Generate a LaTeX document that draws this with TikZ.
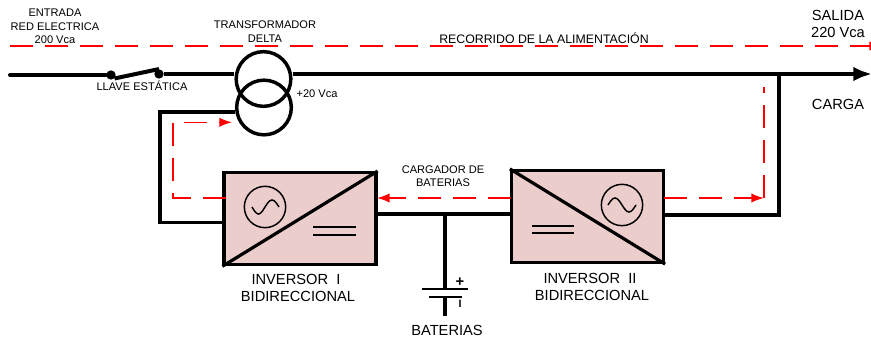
\documentclass[tikz,border=0pt]{standalone}
\usepackage{fontspec}
\setmainfont{Liberation Sans}
\usetikzlibrary{arrows.meta}
\definecolor{boxpink}{HTML}{EBCDCB}
\tikzset{wire/.style={line width=3pt},
         thinwire/.style={line width=2.5pt},
         flow/.style={red,line width=1.1pt,dash pattern=on 17.25pt off 9pt},
         flowtip/.style={-{Latex[length=9.5pt,width=7pt]}},
         coil/.style={draw,circle,line width=2.6pt,minimum size=41pt,inner sep=0pt},
         inverter/.style={draw,line width=2.4pt,fill=boxpink,minimum width=114pt,minimum height=69pt,inner sep=0pt},
         acsign/.style={draw,circle,line width=1.1pt,minimum size=31pt,inner sep=0pt},
         contact/.style={fill,circle,minimum size=7pt,inner sep=0pt},
         smalltxt/.style={align=center,inner sep=0pt,font=\fontsize{8.3}{10}\selectfont},
         bigtxt/.style={align=center,inner sep=0pt,font=\fontsize{11}{12.75}\selectfont},
        }
\begin{document}
\begin{tikzpicture}[x=.75pt,y=-.75pt]
        \clip(0,0)rectangle(871,341);

        \coordinate(inL)at(10,75);
        \coordinate(outL)at(872,74);
        \coordinate(tapL)at(779,74);
        \coordinate(busJ)at(445,214);
        \coordinate(fbT)at(160,112);
        \coordinate(fbB)at(160,222.5);
        \coordinate(retR)at(779,215.5);

        \node[contact](swA)at(111,75){};
        \node[contact](swB)at(159,74){};
        \node[coil](xfT)at(263.5,79){};
        \node[coil](xfB)at(264,107.5){};
        \node[inverter](inv1)at(300,218.7){};
        \node[inverter](inv2)at(587.5,216.5){};
        \node[acsign](ac1)at(265,207){};
        \node[acsign](ac2)at(622,205){};

        \draw[wire,line cap=round](inL)--(swA);
        \draw[wire](swA.south east)--(swB.north);
        \draw[wire](swB)--(swB-|xfT.west);
        \draw[wire](swB-|xfT.east)--(tapL);
        \draw[wire,-{Latex[length=14pt,width=11pt]}](tapL)--(outL);
        \draw[thinwire](xfB.west|-fbT)--(fbT)--(fbB)--(inv1.west|-fbB);
        \draw[wire](inv2.east|-retR)--(retR)--(tapL);

        \draw[line width=2.4pt](inv1.south west)--(inv1.north east);
        \draw[line width=2.4pt](inv2.north west)--(inv2.south east);
        \draw[line width=1.1pt](252,207)sin(258.5,214)cos(265,207)sin(272,200)cos(279,207);
        \draw[line width=1.1pt](608,205)sin(615,198)cos(622,205)sin(629,212)cos(636,205);
        \draw[line width=1.1pt](313,227)--(356,227);
        \draw[line width=1.1pt](313,235)--(356,235);
        \draw[line width=1.1pt](532,226)--(574,226);
        \draw[line width=1.1pt](532,233)--(574,233);

        \coordinate(batA)at(445,289);
        \coordinate(batB)at(445,297);
        \coordinate(batC)at(445,316);
        \draw[line width=2.6pt](inv1.east|-busJ)--(inv2.west|-busJ);
        \draw[thinwire](busJ)--(batA);
        \draw[thinwire](batB)--(batC);
        \draw[line width=2.2pt](422,289)--(468,289);
        \draw[line width=2.2pt](429,297)--(462,297);

        \coordinate(topA)at(10,46);
        \coordinate(topB)at(882,46);
        \coordinate(lpA)at(226,198);
        \coordinate(lpB)at(173,198);
        \coordinate(lpC)at(173,122.3);
        \coordinate(lpD)at(232,122.3);
        \coordinate(chgA)at(511,198);
        \coordinate(chgB)at(377,198);
        \coordinate(rpA)at(664,198);
        \coordinate(rpB)at(764,198);
        \coordinate(rpC)at(764,87);
        \draw[flow,flowtip](topA)--(topB);
        \draw[flow,flowtip](lpA)--(lpB)--(lpC)--(lpD);
        \draw[flow,flowtip](chgA)--(chgB);
        \draw[flow,flowtip](rpA)--(rpB);
        \draw[flow](rpB)--(rpC);

        \node[smalltxt](entrada)at(55,26.5){ENTRADA\\RED ELECTRICA\\200 Vca};
        \node[smalltxt](llave)at(142,86){LLAVE ESTÁTICA};
        \node[smalltxt](trafo)at(265,31.5){TRANSFORMADOR\\DELTA};
        \node[smalltxt](mas20)at(317,93.5){+20 Vca};
        \node[smalltxt,font=\fontsize{9.25}{10}\selectfont](recorrido)at(544,38){RECORRIDO DE LA ALIMENTACIÓN};
        \node[smalltxt](cargador)at(443,176.5){CARGADOR DE\\BATERIAS};
        \node[bigtxt](salida)at(838,24){SALIDA\\220 Vca};
        \node[bigtxt](carga)at(838,104){CARGA};
        \node[bigtxt](txtinv1)at(298,287.5){INVERSOR~~I~~\\BIDIRECCIONAL};
        \node[bigtxt](txtinv2)at(592,287){INVERSOR~~II~~\\BIDIRECCIONAL};
        \node[bigtxt](txtbat)at(447,330){BATERIAS};
        \node[smalltxt,font=\bfseries\fontsize{11}{11}\selectfont](plus)at(460,282){+};
        \node[smalltxt,font=\bfseries\fontsize{8}{8}\selectfont](minus)at(460,304){I};
    \end{tikzpicture}
\end{document}
